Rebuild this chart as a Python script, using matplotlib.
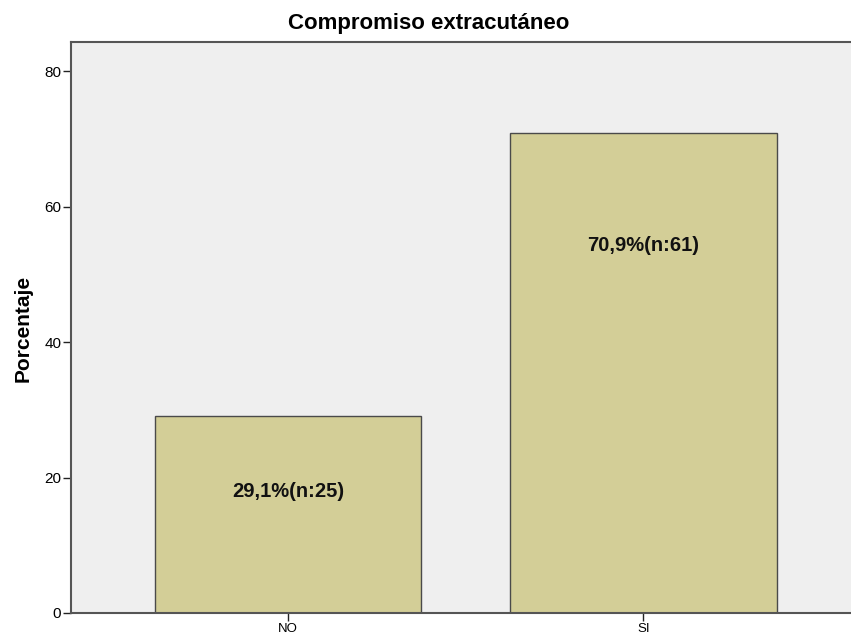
import matplotlib
matplotlib.use("Agg")
import matplotlib.pyplot as plt

categories = ["NO", "SI"]
percentages = [29.07, 70.93]
counts = [25, 61]
bar_labels = ["29,1%(n:25)", "70,9%(n:61)"]
y_ticks = [0, 20, 40, 60, 80]

plt.rcParams['font.family'] = ['Liberation Sans', 'DejaVu Sans']

fig = plt.figure(figsize=(8.51, 6.40), dpi=100)
ax = fig.add_axes([71/851, 27/640, 1 - 71/851, (613-42)/640])
ax.set_facecolor('#EFEFEF')

x = list(range(len(categories)))
bars = ax.bar(x, percentages, width=0.75, color='#D3CE97', edgecolor='#4a4a4a', linewidth=1.0, zorder=2)

label_frac = [0.615, 0.765]
for xi, p, lab, f in zip(x, percentages, bar_labels, label_frac):
    ax.text(xi, p * f, lab, ha='center', va='center', fontsize=14.5, fontweight='bold', color='#111111', zorder=3)

ax.set_xlim(-0.61, 1.584)
ax.set_ylim(0, 84.3)
ax.set_xticks(x)
ax.set_xticklabels(categories, fontsize=9.5)
ax.set_yticks(y_ticks)
ax.set_yticklabels([str(t) for t in y_ticks], fontsize=11)
ax.tick_params(axis='both', direction='out', length=6, width=1, color='#222222', pad=1)
for s in ['left', 'bottom', 'top']:
    ax.spines[s].set_color('#555555')
    ax.spines[s].set_linewidth(1.5)
ax.spines['right'].set_visible(False)

fig.text(23/851, 1 - 328/640, 'Porcentaje', ha='center', va='center', rotation=90, fontsize=15, fontweight='bold')
fig.text(429/851, 1 - 24/640, 'Compromiso extracutáneo', ha='center', va='center', fontsize=16, fontweight='bold')

fig.savefig('out.png', dpi=100)
